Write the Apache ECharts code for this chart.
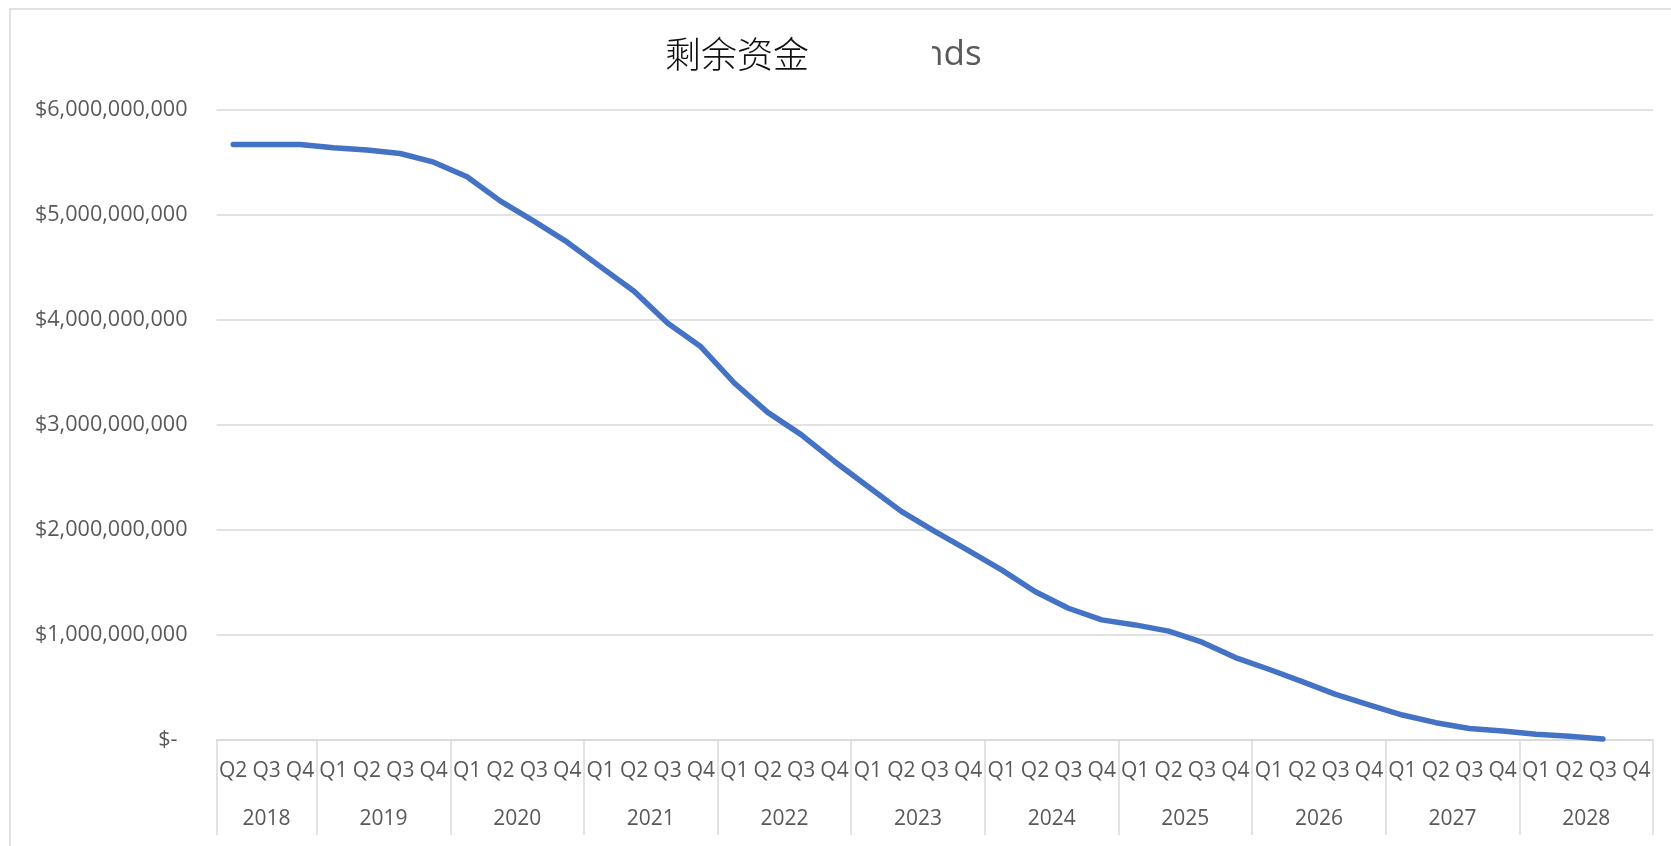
<!DOCTYPE html>
<html>
<head>
<meta charset="utf-8">
<title>剩余资金</title>
<script src="https://cdn.jsdelivr.net/npm/echarts@6/dist/echarts.min.js"></script>
<style>
  html, body { margin: 0; padding: 0; background: #ffffff; }
  #chart { width: 1671px; height: 846px; }
</style>
</head>
<body>
<div id="chart"></div>
<script>
// Years shown on the category axis and the quarters each one covers
const years = ['2018', '2019', '2020', '2021', '2022', '2023', '2024', '2025', '2026', '2027', '2028'];
const quartersPerYear = [
  ['Q2', 'Q3', 'Q4'],
  ['Q1', 'Q2', 'Q3', 'Q4'], ['Q1', 'Q2', 'Q3', 'Q4'], ['Q1', 'Q2', 'Q3', 'Q4'],
  ['Q1', 'Q2', 'Q3', 'Q4'], ['Q1', 'Q2', 'Q3', 'Q4'], ['Q1', 'Q2', 'Q3', 'Q4'],
  ['Q1', 'Q2', 'Q3', 'Q4'], ['Q1', 'Q2', 'Q3', 'Q4'], ['Q1', 'Q2', 'Q3', 'Q4'],
  ['Q1', 'Q2', 'Q3', 'Q4']
];

// Remaining funds at the end of each quarter (USD)
const remainingFunds = [
  5.672e9, 5.672e9, 5.672e9,
  5.640e9, 5.618e9, 5.586e9, 5.503e9,
  5.364e9, 5.132e9, 4.941e9, 4.741e9,
  4.506e9, 4.274e9, 3.972e9, 3.745e9,
  3.400e9, 3.120e9, 2.908e9, 2.653e9,
  2.415e9, 2.177e9, 1.986e9, 1.805e9,
  1.620e9, 1.414e9, 1.255e9, 1.144e9,
  1.096e9, 1.037e9, 0.932e9, 0.785e9,
  0.674e9, 0.556e9, 0.435e9, 0.334e9,
  0.238e9, 0.165e9, 0.110e9, 0.085e9,
  0.055e9, 0.035e9, 0.010e9, null
];

// Value axis ticks
const yTicks = [0, 1e9, 2e9, 3e9, 4e9, 5e9, 6e9];

const titleMain = '剩余资金';
const titleTail = 'nds';

// Flatten quarter labels
const quarterLabels = [];
quartersPerYear.forEach(qs => qs.forEach(q => quarterLabels.push(q)));
const nCat = quarterLabels.length;

// Half-step axis for the year row: slot h sits at category position (h / 2 - 0.5)
const halfSlots = [];
for (let h = 0; h <= nCat * 2; h++) halfSlots.push(String(h));
const boundarySlots = new Set([0]);
const yearCenterSlot = {};
let start = 0;
quartersPerYear.forEach((qs, k) => {
  const end = start + qs.length;
  boundarySlots.add(end * 2);
  yearCenterSlot[start + end] = years[k];   // start+end == 2*centerPos+1
  start = end;
});

const axisText = { fontFamily: 'Open Sans', fontSize: 21, color: '#595959' };
const gridColor = '#d9d9d9';

const chart = echarts.init(document.getElementById('chart'), null, { renderer: 'canvas' });

chart.setOption({
  backgroundColor: '#ffffff',
  animation: false,
  grid: { left: 216.5, right: 18, top: 110, bottom: 106, containLabel: false },
  graphic: [
    {
      type: 'rect', z: 0, silent: true,
      shape: { x: 10, y: 9, width: 1700, height: 900 },
      style: { fill: 'none', stroke: gridColor, lineWidth: 1.5 }
    },
    {
      type: 'text', z: 10, silent: true,
      style: {
        x: 922, y: 73, text: titleTail, textVerticalAlign: 'bottom',
        font: '35px "Open Sans"', fill: '#595959'
      }
    },
    {
      type: 'rect', z: 11, silent: true,
      shape: { x: 900, y: 30, width: 32, height: 50 },
      style: { fill: '#ffffff' }
    },
    {
      type: 'text', z: 12, silent: true,
      style: {
        x: 665, y: 54, text: titleMain, textVerticalAlign: 'middle',
        font: '300 36px "Noto Sans CJK SC"', fill: '#111111'
      }
    }
  ],
  xAxis: [
    {
      type: 'category',
      data: quarterLabels,
      boundaryGap: true,
      position: 'bottom',
      axisLine: { show: true, lineStyle: { color: gridColor, width: 1.5 } },
      axisTick: { show: false },
      axisLabel: Object.assign({ interval: 0, margin: 21 }, axisText),
      splitLine: { show: false }
    },
    {
      type: 'category',
      data: halfSlots,
      boundaryGap: false,
      position: 'bottom',
      axisLine: { show: false },
      axisTick: {
        show: true,
        length: 95,
        interval: (i) => boundarySlots.has(i),
        lineStyle: { color: gridColor, width: 1.5 }
      },
      axisLabel: Object.assign({
        interval: (i) => yearCenterSlot[i] !== undefined,
        formatter: (v, i) => yearCenterSlot[i] || '',
        margin: 69
      }, axisText),
      splitLine: { show: false }
    }
  ],
  yAxis: {
    type: 'value',
    min: yTicks[0],
    max: yTicks[yTicks.length - 1],
    interval: yTicks[1] - yTicks[0],
    axisLine: { show: false },
    axisTick: { show: false },
    splitLine: { show: true, lineStyle: { color: gridColor, width: 1.5 } },
    axisLabel: Object.assign({
      margin: 29,
      formatter: (v) => v === 0 ? '{z|$-}' : '$' + v.toLocaleString('en-US'),
      rich: {
        z: { fontFamily: 'Open Sans', fontSize: 21.6, color: '#595959', padding: [0, 10, 0, 0] }
      }
    }, axisText, { fontSize: 21.6 })
  },
  series: [
    {
      type: 'line',
      xAxisIndex: 0,
      data: remainingFunds,
      showSymbol: false,
      symbol: 'none',
      smooth: false,
      connectNulls: false,
      lineStyle: { color: '#4472C4', width: 5.5, cap: 'round', join: 'round' },
      itemStyle: { color: '#4472C4' },
      z: 5
    }
  ]
});
</script>
</body>
</html>
